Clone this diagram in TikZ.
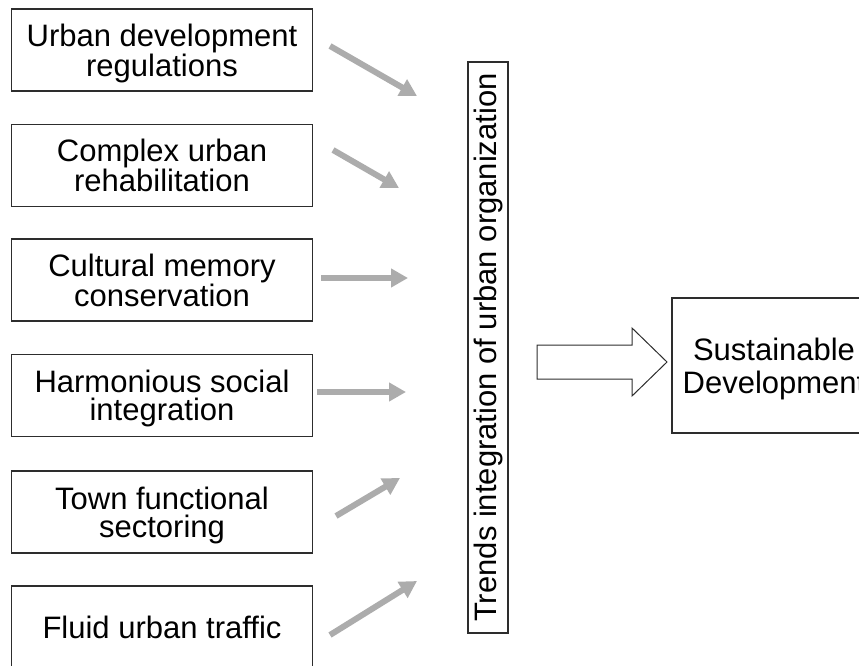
\documentclass[tikz,border=0pt]{standalone}
\usepackage{fontspec}
\setmainfont{Liberation Sans}
\usepackage{tikz}
\usetikzlibrary{arrows.meta}
\definecolor{Frame}{RGB}{45,45,45}
\definecolor{Shade}{RGB}{172,172,172}
\newcommand{\Factor}[3]{% name y text
\node[factor] (#1) at (162,#2) {#3};
}
\newcommand{\Push}[5]{% name x0 y0 x1 y1
\coordinate (#1s) at (#2,#3);
\coordinate (#1e) at (#4,#5);
\draw[push] (#1s) -- (#1e);
}
\begin{document}
\begin{tikzpicture}[x=1pt,y=-1pt,
  factor/.style={draw=Frame,line width=1.4pt,minimum width=301pt,minimum height=82pt,
    align=center,inner sep=0pt,text depth=0pt,font=\fontsize{31}{28}\selectfont},
  push/.style={Shade,line width=6pt,-{Triangle[length=17pt,width=18pt]}}]
\useasboundingbox (0,0) rectangle (859,666);
\clip (0,0) rectangle (859,666);
% six factors on the left
\Factor{reg}{50}{Urban development\\regulations}
\Factor{reh}{165.5}{Complex urban\\rehabilitation}
\Factor{mem}{280}{Cultural memory\\conservation}
\Factor{soc}{395.5}{Harmonious social\\integration}
\Factor{sec}{512}{Town functional\\sectoring}
\Factor{tra}{627}{Fluid urban traffic}
% grey arrows towards the bar
\Push{p1}{330}{46}{417}{96}
\Push{p2}{333}{150}{399}{188}
\Push{p3}{321}{278}{408}{278}
\Push{p4}{317}{392}{406}{392}
\Push{p5}{336}{516}{400}{478}
\Push{p6}{330}{635}{417}{581}
% vertical bar
\node[draw=Frame,line width=1.4pt,rotate=90,minimum width=571pt,minimum height=40pt,
  inner sep=0pt,font=\fontsize{31}{28}\selectfont] (trend) at (488,347.5)
  {Trends integration of urban organization};
% outcome
\node[draw=Frame,line width=1.4pt,minimum width=204pt,minimum height=135pt,
  align=center,inner sep=0pt,text depth=0pt,font=\fontsize{31}{33}\selectfont] (sus) at (774,365.5)
  {Sustainable\ \\Development};
% hollow arrow
\draw[Frame,line width=1pt] (537,345) -- (632,345) -- (632,328) -- (667,362)
  -- (632,396) -- (632,379) -- (537,379) -- cycle;
\end{tikzpicture}
\end{document}
